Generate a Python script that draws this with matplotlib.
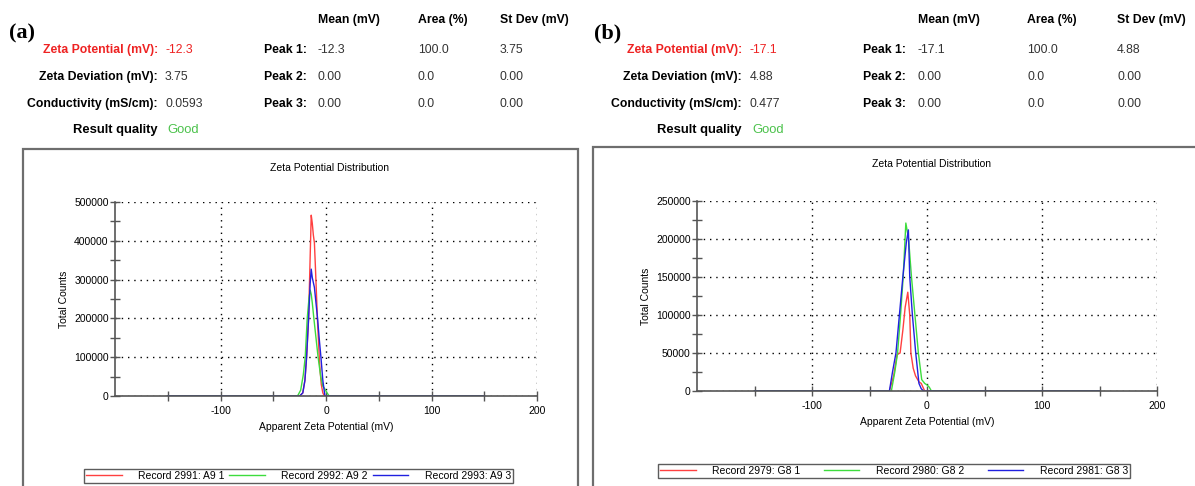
import matplotlib
matplotlib.use("Agg")
import matplotlib.pyplot as plt
from matplotlib.patches import Rectangle
from matplotlib.ticker import MultipleLocator, FixedLocator

plt.rcParams['font.family'] = ['Liberation Sans', 'DejaVu Sans']
plt.rcParams['axes.unicode_minus'] = False

W, H = 1195, 486

# ---- header data ----
summary_labels = ["Zeta Potential (mV):", "Zeta Deviation (mV):", "Conductivity (mS/cm):"]
peak_cols = ["Mean (mV)", "Area (%)", "St Dev (mV)"]
peak_labels = ["Peak 1:", "Peak 2:", "Peak 3:"]

a_summary = ["-12.3", "3.75", "0.0593"]
a_peaks = [["-12.3", "100.0", "3.75"],
           ["0.00", "0.0", "0.00"],
           ["0.00", "0.0", "0.00"]]
b_summary = ["-17.1", "4.88", "0.477"]
b_peaks = [["-17.1", "100.0", "4.88"],
           ["0.00", "0.0", "0.00"],
           ["0.00", "0.0", "0.00"]]

# ---- distribution data ----
a_names = ["Record 2991: A9 1", "Record 2992: A9 2", "Record 2993: A9 3"]
a_red_x = [-150, -25, -22, -20, -18.4, -16.5, -15, -14, -13, -12, -11, -10, -8, -6, -4.5, -3, -1.5, 150]
a_red_y = [0, 0, 8000, 40000, 100000, 200000, 360000, 466000, 445000, 415000, 395000, 330000, 190000, 80000, 30000, 8000, 0, 0]
a_green_x = [-150, -27, -24, -21.5, -19.7, -17.8, -16, -15, -14, -13, -11.5, -9.5, -7.5, -5, -3, -1.5, 1, 3, 150]
a_green_y = [0, 0, 15000, 55000, 100000, 200000, 255000, 273000, 262000, 240000, 200000, 150000, 100000, 50000, 25000, 20000, 8000, 0, 0]
a_blue_x = [-150, -25, -22, -20, -18.4, -16.5, -15, -14, -13, -11, -9.5, -8, -6.5, -4.8, -3, -1, 150]
a_blue_y = [0, 0, 8000, 40000, 100000, 200000, 290000, 327000, 305000, 280000, 240000, 200000, 150000, 100000, 40000, 0, 0]

b_names = ["Record 2979: G8 1", "Record 2980: G8 2", "Record 2981: G8 3"]
b_red_x = [-150, -32.7, -29, -26, -23.4, -21, -19, -16.7, -15, -14, -12, -10, -7, -5, -2, 150]
b_red_y = [0, 0, 20000, 48000, 50000, 80000, 110000, 130000, 100000, 50000, 30000, 20000, 12000, 10000, 0, 0]
b_green_x = [-150, -31, -28, -25.6, -23, -20.7, -18.4, -16, -13.5, -10.5, -7.5, -4.6, -2, 0, 2, 3.8, 150]
b_green_y = [0, 0, 25000, 50000, 100000, 150000, 221000, 200000, 150000, 100000, 50000, 15000, 10000, 8000, 5000, 0, 0]
b_blue_x = [-150, -32.7, -30, -27, -24, -21, -18, -16.2, -15, -12.7, -9.8, -7, -5, -3, 150]
b_blue_y = [0, 0, 25000, 50000, 100000, 150000, 195000, 212000, 150000, 100000, 50000, 10000, 3000, 0, 0]

line_colors = ["#ff4040", "#3ddc3d", "#2020e0"]


def fx(x):
    return x / W


def fy(y):
    return 1 - y / H


fig = plt.figure(figsize=(W / 100, H / 100), dpi=100)

# outer frames
for x0, y0, x1 in [(23, 149, 578), (593, 147, 1200)]:
    fig.patches.append(Rectangle((fx(x0), fy(H + 10)), fx(x1 - x0), (H + 10 - y0) / H,
                                 transform=fig.transFigure, fill=False,
                                 edgecolor="#6e6e6e", linewidth=1.6))


def header(tag, tag_x, lab_r, val_x, pk_r, col_xs, summary, peaks):
    fs = 8.8
    fig.text(fx(tag_x), fy(33), tag, fontsize=16, fontweight="bold",
             family="Liberation Serif", va="center", ha="left")
    rows = [50, 77, 104]
    for i, (lab, val) in enumerate(zip(summary_labels, summary)):
        c = "#ee2222" if i == 0 else "black"
        cv = "#ee2222" if i == 0 else "#333333"
        fig.text(fx(lab_r), fy(rows[i]), lab, fontsize=fs, fontweight="bold",
                 color=c, ha="right", va="center")
        fig.text(fx(val_x), fy(rows[i]), val, fontsize=fs, color=cv,
                 ha="left", va="center")
    fig.text(fx(lab_r), fy(130), "Result quality", fontsize=fs + 0.6,
             fontweight="bold", ha="right", va="center")
    fig.text(fx(val_x + 2), fy(130), "Good", fontsize=fs + 0.6,
             color="#4cc24c", ha="left", va="center")
    for cx, name in zip(col_xs, peak_cols):
        fig.text(fx(cx), fy(20), name, fontsize=fs, fontweight="bold",
                 ha="left", va="center")
    for i, (pl, vals) in enumerate(zip(peak_labels, peaks)):
        fig.text(fx(pk_r), fy(rows[i]), pl, fontsize=fs, fontweight="bold",
                 ha="right", va="center")
        for cx, v in zip(col_xs, vals):
            fig.text(fx(cx), fy(rows[i]), v, fontsize=fs, color="#333333",
                     ha="left", va="center")


header("(a)", 9, 158, 165, 307, [318, 418, 500], a_summary, a_peaks)
header("(b)", 594, 742, 750, 906, [918, 1027, 1117], b_summary, b_peaks)


def panel(box, ymax, ystep, curves, names, title_y, leg_box):
    l, r, t, b = box
    ax = fig.add_axes([fx(l), fy(b), fx(r - l), (b - t) / H])
    for (xs, ys), c, n in zip(curves, line_colors, names):
        ax.plot(xs, ys, color=c, lw=1.0, label=n)
    ax.set_xlim(-200, 200)
    ax.set_ylim(0, ymax)
    ax.xaxis.set_major_locator(FixedLocator([-100, 0, 100, 200]))
    ax.xaxis.set_minor_locator(FixedLocator([-150, -50, 50, 150]))
    ax.yaxis.set_major_locator(MultipleLocator(ystep))
    ax.yaxis.set_minor_locator(MultipleLocator(ystep / 2))
    ax.grid(True, which="major", color="black", linestyle=(0, (1, 3.5)), lw=1.0)
    for s in ["top", "right"]:
        ax.spines[s].set_visible(False)
    for s in ["left", "bottom"]:
        ax.spines[s].set_color("#555555")
        ax.spines[s].set_linewidth(1.2)
    ax.tick_params(which="both", direction="inout", length=7, width=1.0,
                   colors="#555555", labelcolor="black", labelsize=7.5)
    ax.tick_params(axis="x", pad=4)
    ax.tick_params(axis="y", pad=1)
    ax.set_xlabel("Apparent Zeta Potential (mV)", fontsize=7.5, labelpad=4)
    ax.set_ylabel("Total Counts", fontsize=7.5, labelpad=4)
    fig.text(fx((l + r) / 2 + 4), fy(title_y), "Zeta Potential Distribution",
             fontsize=7.5, ha="center", va="center")
    lx0, ly0, lx1, ly1 = leg_box
    fig.legend(*ax.get_legend_handles_labels(), loc="lower left",
               bbox_to_anchor=(fx(lx0), fy(ly1), fx(lx1 - lx0), (ly1 - ly0) / H),
               mode="expand", ncol=3, fontsize=7.5, frameon=True, fancybox=False,
               edgecolor="#333333", handlelength=3.4, borderpad=0.2,
               borderaxespad=0, handletextpad=1.6, columnspacing=2.0)
    return ax


panel((115, 537, 202, 396), 500000, 100000,
      [(a_red_x, a_red_y), (a_green_x, a_green_y), (a_blue_x, a_blue_y)],
      a_names, 168, (84, 466, 513, 483))
panel((697, 1157, 201, 391), 250000, 50000,
      [(b_red_x, b_red_y), (b_green_x, b_green_y), (b_blue_x, b_blue_y)],
      b_names, 164, (658, 461, 1130, 478))

fig.savefig("out.png", dpi=100)
